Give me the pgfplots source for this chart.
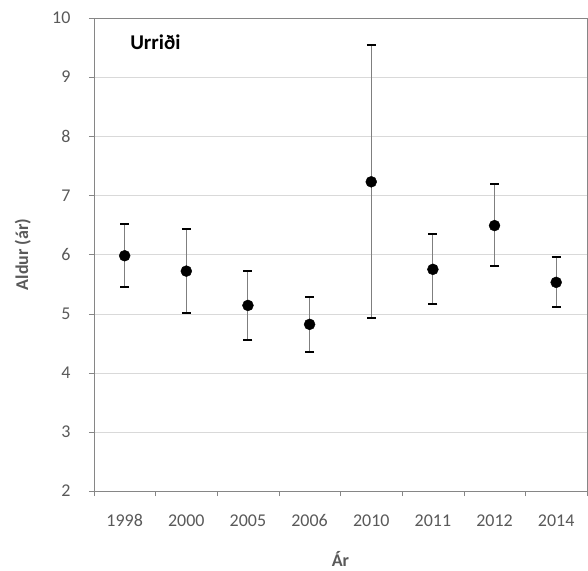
\documentclass[border=0pt]{standalone}
\usepackage{pgfplots}
\pgfplotsset{compat=1.18}
\usepackage{pgfplotstable}
\usepackage{fontspec}
\setmainfont{Carlito}
\definecolor{axgray}{HTML}{868686}
\definecolor{txtgray}{HTML}{595959}
\definecolor{gridgray}{HTML}{D9D9D9}
\definecolor{bargray}{HTML}{7F7F7F}

% medalaldur urrida, +/- skekkja
\pgfplotstableread{
x  y     ep    em
0  5.98  0.54  0.53
1  5.72  0.71  0.70
2  5.14  0.58  0.59
3  4.82  0.46  0.47
4  7.23  2.32  2.31
5  5.75  0.59  0.59
6  6.49  0.70  0.69
7  5.53  0.43  0.42
}\urridi

\begin{document}
\begin{tikzpicture}
\begin{axis}[
    scale only axis,
    width=494bp, height=474bp,
    xmin=-0.5, xmax=7.5,
    ymin=2, ymax=10,
    xtick={0,...,7},
    xticklabels={1998,2000,2005,2006,2010,2011,2012,2014},
    minor xtick={-0.5,0.5,...,7.5},
    major x tick style={draw=none},
    ytick={2,...,10},
    xtick pos=lower, ytick pos=left,
    tick align=outside,
    tick style={axgray},
    major tick length=5bp, minor tick length=5bp,
    axis line style={axgray},
    ymajorgrids, grid style={gridgray},
    /pgf/number format/assume math mode=true,
    ticklabel style={font=\fontsize{18bp}{21bp}\selectfont, text=txtgray},
    yticklabel style={xshift=-15bp},
    xticklabel style={yshift=-15bp},
    label style={font=\fontsize{18bp}{21bp}\selectfont\bfseries, text=txtgray},
    xlabel={Ár}, ylabel={Aldur (ár)},
    xlabel style={at={(axis description cs:0.5,-0.143)}, anchor=center, inner sep=0pt},
    ylabel style={at={(axis description cs:-0.144,0.5)}, anchor=center},
    clip=false,
]
\addplot[only marks, mark=*, mark size=5.5bp, mark options={fill=black, draw=black},
    error bars/.cd, y dir=both, y explicit,
    error bar style={draw=bargray, line width=1bp},
    error mark options={draw=black, line width=2bp, mark size=4.5bp, rotate=90}]
    table[x=x, y=y, y error plus=ep, y error minus=em] {\urridi};
\node[anchor=west, font=\fontsize{21bp}{24bp}\selectfont\bfseries, xshift=33bp, yshift=-24bp]
    at (rel axis cs:0,1) {Urriði};
\path (rel axis cs:0,0) ++(-94bp,-79bp) (rel axis cs:1,1) ++(1bp,18bp);
\end{axis}
\end{tikzpicture}
\end{document}
